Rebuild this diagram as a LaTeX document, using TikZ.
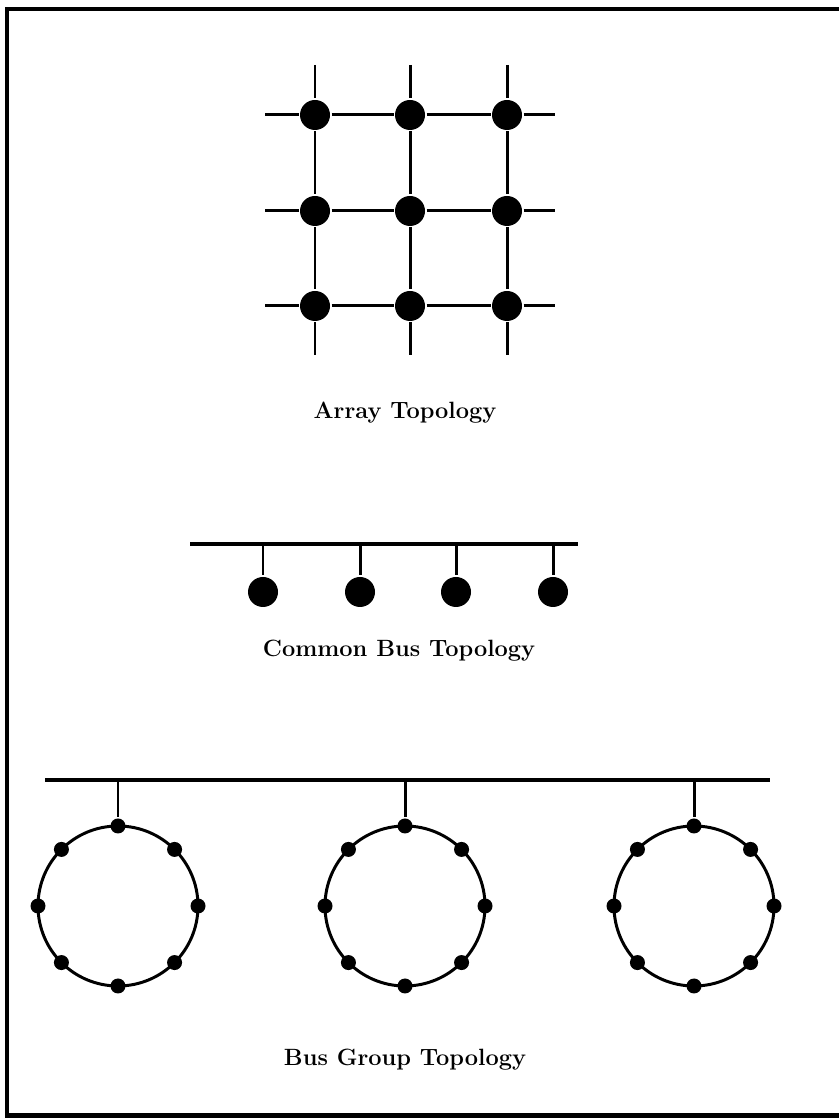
\documentclass[tikz,border=0pt]{standalone}
\begin{document}
\begin{tikzpicture}[
       line width=1.7pt,
       noeud/.style={
         circle,
         fill=black,
         inner sep=0pt,
         minimum size=0.6cm
       },
       station/.style={
         circle,
         fill=black,
         inner sep=0pt,
         minimum size=0.3cm
       },
       titre/.style={
         font=\fontsize{13.4}{15}\selectfont\bfseries
       }
     ]

       \useasboundingbox (0,0) rectangle (16.78,22.38);
       \draw[line width=2.6pt] (16.78,22.20) -- (0.14,22.20) -- (0.14,0.07) -- (16.78,0.07);

       % array
       \node (g1) at (6.30,20.08) [noeud]{};
       \node (g2) at (8.20,20.08) [noeud]{};
       \node (g3) at (10.14,20.08) [noeud]{};
       \node (g4) at (6.30,18.16) [noeud]{};
       \node (g5) at (8.20,18.16) [noeud]{};
       \node (g6) at (10.14,18.16) [noeud]{};
       \node (g7) at (6.30,16.26) [noeud]{};
       \node (g8) at (8.20,16.26) [noeud]{};
       \node (g9) at (10.14,16.26) [noeud]{};

       \coordinate (h1) at (5.30,20.08);
       \coordinate (h2) at (11.10,20.08);
       \coordinate (h3) at (5.30,18.16);
       \coordinate (h4) at (11.10,18.16);
       \coordinate (h5) at (5.30,16.26);
       \coordinate (h6) at (11.10,16.26);
       \coordinate (v1) at (6.30,21.08);
       \coordinate (v2) at (6.30,15.28);
       \coordinate (v3) at (8.20,21.08);
       \coordinate (v4) at (8.20,15.28);
       \coordinate (v5) at (10.14,21.08);
       \coordinate (v6) at (10.14,15.28);

       \draw (h1) -- (g1) -- (g2) -- (g3) -- (h2);
       \draw (h3) -- (g4) -- (g5) -- (g6) -- (h4);
       \draw (h5) -- (g7) -- (g8) -- (g9) -- (h6);
       \draw (v1) -- (g1) -- (g4) -- (g7) -- (v2);
       \draw (v3) -- (g2) -- (g5) -- (g8) -- (v4);
       \draw (v5) -- (g3) -- (g6) -- (g9) -- (v6);

       \node (t1) at (8.10,14.12) [titre]{Array Topology};

       % common bus
       \coordinate (c0) at (3.80,11.50);
       \coordinate (c9) at (11.56,11.50);
       \coordinate (c1) at (5.26,11.50);
       \coordinate (c2) at (7.20,11.50);
       \coordinate (c3) at (9.12,11.50);
       \coordinate (c4) at (11.06,11.50);

       \node (b1) at (5.26,10.54) [noeud]{};
       \node (b2) at (7.20,10.54) [noeud]{};
       \node (b3) at (9.12,10.54) [noeud]{};
       \node (b4) at (11.06,10.54) [noeud]{};

       \draw[line width=2pt] (c0) -- (c9);
       \draw (c1) -- (b1);
       \draw (c2) -- (b2);
       \draw (c3) -- (b3);
       \draw (c4) -- (b4);

       \node (t2) at (7.98,9.36) [titre]{Common Bus Topology};

       % bus group
       \coordinate (d0) at (0.90,6.78);
       \coordinate (d9) at (15.40,6.78);
       \coordinate (d1) at (2.36,6.78);
       \coordinate (d2) at (8.10,6.78);
       \coordinate (d3) at (13.88,6.78);
       \coordinate (o1) at (2.36,4.26);
       \coordinate (o2) at (8.10,4.26);
       \coordinate (o3) at (13.88,4.26);

       \draw (o1) circle (1.6);
       \draw (o2) circle (1.6);
       \draw (o3) circle (1.6);

       \begin{scope}[shift={(o1)}]
         \node (r1a) at (90:1.6) [station]{};
         \node (r1b) at (45:1.6) [station]{};
         \node (r1c) at (0:1.6) [station]{};
         \node (r1d) at (-45:1.6) [station]{};
         \node (r1e) at (-90:1.6) [station]{};
         \node (r1f) at (-135:1.6) [station]{};
         \node (r1g) at (180:1.6) [station]{};
         \node (r1h) at (135:1.6) [station]{};
       \end{scope}
       \begin{scope}[shift={(o2)}]
         \node (r2a) at (90:1.6) [station]{};
         \node (r2b) at (45:1.6) [station]{};
         \node (r2c) at (0:1.6) [station]{};
         \node (r2d) at (-45:1.6) [station]{};
         \node (r2e) at (-90:1.6) [station]{};
         \node (r2f) at (-135:1.6) [station]{};
         \node (r2g) at (180:1.6) [station]{};
         \node (r2h) at (135:1.6) [station]{};
       \end{scope}
       \begin{scope}[shift={(o3)}]
         \node (r3a) at (90:1.6) [station]{};
         \node (r3b) at (45:1.6) [station]{};
         \node (r3c) at (0:1.6) [station]{};
         \node (r3d) at (-45:1.6) [station]{};
         \node (r3e) at (-90:1.6) [station]{};
         \node (r3f) at (-135:1.6) [station]{};
         \node (r3g) at (180:1.6) [station]{};
         \node (r3h) at (135:1.6) [station]{};
       \end{scope}

       \draw[line width=2pt] (d0) -- (d9);
       \draw (d1) -- (r1a);
       \draw (d2) -- (r2a);
       \draw (d3) -- (r3a);

       \node (t3) at (8.10,1.18) [titre]{Bus Group Topology};

\end{tikzpicture}
\end{document}
